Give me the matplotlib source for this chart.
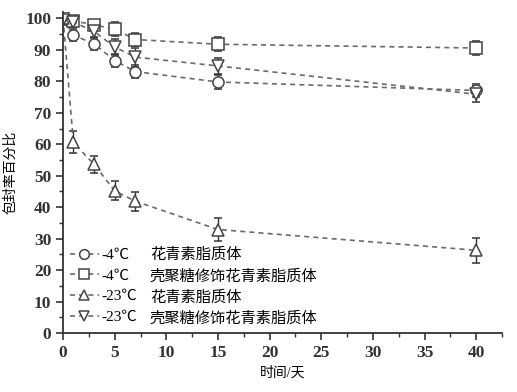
import numpy as np
import matplotlib.pyplot as plt
from matplotlib.lines import Line2D
from matplotlib.ticker import MultipleLocator

plt.rcParams['font.family'] = ['Liberation Serif', 'Noto Sans CJK SC']

# data
days = [0, 1, 3, 5, 7, 15, 40]
lip_4 = [100, 94.7, 91.9, 86.6, 83.1, 79.8, 77.1]
lip_4_err = [1.5, 2.0, 1.8, 2.0, 2.0, 2.2, 2.0]
chi_4 = [100, 99.2, 98.0, 96.6, 93.3, 91.8, 90.6]
chi_4_err = [1.2, 1.3, 1.5, 2.2, 2.2, 2.3, 2.3]
lip_23 = [100, 60.6, 53.6, 45.2, 41.9, 32.9, 26.3]
lip_23_err = [1.5, 3.5, 2.8, 3.0, 3.0, 3.8, 4.0]
chi_23 = [99.5, 98.8, 95.9, 90.9, 87.7, 84.9, 75.9]
chi_23_err = [1.5, 1.5, 1.8, 2.5, 3.0, 2.5, 2.5]

temps = ['-4℃', '-4℃', '-23℃', '-23℃']
names = ['花青素脂质体', '壳聚糖修饰花青素脂质体', '花青素脂质体', '壳聚糖修饰花青素脂质体']
markers = ['o', 's', '^', 'v']

LINE_C = '#6a6a6a'
EDGE_C = '#444444'
DASH = (0, (3, 2.5))

fig = plt.figure(figsize=(5.17, 3.92), dpi=100)
ax = fig.add_axes([0.122, 0.1505, 0.849, 0.8185])

handles = []
for y, e, m in zip([lip_4, chi_4, lip_23, chi_23],
                   [lip_4_err, chi_4_err, lip_23_err, chi_23_err], markers):
    ax.errorbar(days, y, yerr=e, fmt=m, ls=DASH, color=LINE_C,
                mec=EDGE_C, mfc='white', ms=8, mew=1.1,
                ecolor='#333333', elinewidth=1.0, capsize=3, capthick=1.0,
                lw=1.2)
    handles.append(Line2D([], [], marker=m, ls=DASH, color=LINE_C, mec=EDGE_C,
                          mfc='white', ms=7, mew=1.1, lw=1.2))

blank = [Line2D([], [], ls='none') for _ in names]
ax.legend(handles + blank, temps + names, ncol=2, loc='lower left',
          bbox_to_anchor=(0.0, 0.0), frameon=False, fontsize=11,
          handlelength=1.9, handletextpad=0.15, columnspacing=-1.2,
          labelspacing=0.45, borderaxespad=0.05)

ax.set_xlim(0, 42.5)
ax.set_ylim(0, 102)
ax.xaxis.set_major_locator(MultipleLocator(5))
ax.xaxis.set_minor_locator(MultipleLocator(2.5))
ax.yaxis.set_major_locator(MultipleLocator(10))
ax.yaxis.set_minor_locator(MultipleLocator(5))
ax.spines['top'].set_visible(False)
ax.spines['right'].set_visible(False)
for s in ['left', 'bottom']:
    ax.spines[s].set_linewidth(1.3)
    ax.spines[s].set_color('#333333')
ax.tick_params(which='major', direction='out', length=5, width=1.2, labelsize=12.5, colors='#333333')
ax.tick_params(which='minor', direction='out', length=3, width=1.0, colors='#333333')
for lab in ax.get_xticklabels() + ax.get_yticklabels():
    lab.set_fontweight('bold')

ax.set_xlabel('时间/天', fontsize=10, labelpad=4)
ax.set_ylabel('包封率百分比', fontsize=10, labelpad=6)

fig.savefig('out.png', dpi=100)
